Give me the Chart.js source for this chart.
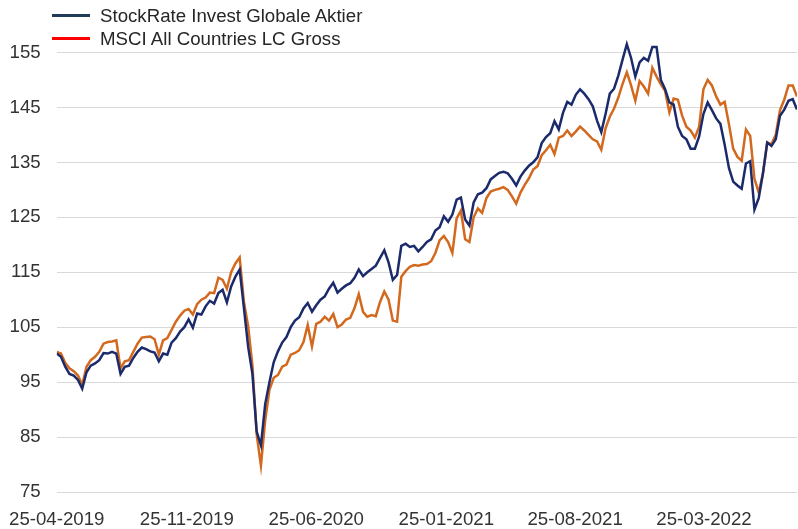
<!DOCTYPE html>
<html>
<head>
<meta charset="utf-8">
<style>
    html, body { margin: 0; padding: 0; background: #fff; }
    #wrap { position: relative; width: 798px; height: 529px; }
    #legend { position: absolute; left: 52px; top: 4px; font: 18.67px "Liberation Sans", Arial, sans-serif; color: #262626; }
    #legend .item { display: flex; align-items: center; height: 23px; white-space: nowrap; }
    #legend .swatch { width: 38px; height: 3px; margin-right: 10px; }
</style>
<script src="https://cdn.jsdelivr.net/npm/chart.js@4.4.1/dist/chart.umd.min.js"></script>
</head>
<body>
<div id="wrap">
    <canvas id="perf-chart" width="798" height="529"></canvas>
    <div id="legend"></div>
</div>
<script>
// weekly points, day 0 = 25-04-2019
const stepDays = 7;

const tickDays = [0, 214, 427, 641, 853, 1065];
const tickLabels = ["25-04-2019", "25-11-2019", "25-06-2020", "25-01-2021", "25-08-2021", "25-03-2022"];
const yTicks = [75, 85, 95, 105, 115, 125, 135, 145, 155];

const seriesNames = ["StockRate Invest Globale Aktier", "MSCI All Countries LC Gross"];

const stockRate = [
    100.2, 99.6, 97.8, 96.5, 96.2, 95.4, 93.8, 96.8, 98.0, 98.4,
    99.0, 100.3, 100.2, 100.5, 100.2, 96.5, 97.8, 98.0, 99.4, 100.5,
    101.3, 101.0, 100.6, 100.4, 98.8, 100.2, 100.0, 102.2, 103.0, 104.2,
    105.0, 106.4, 104.9, 107.5, 107.3, 108.8, 109.8, 109.3, 111.2, 111.8,
    109.5, 112.4, 114.2, 115.5, 108.5, 101.4, 96.5, 86.0, 83.5, 91.0,
    95.0, 98.6, 100.6, 102.2, 103.2, 105.0, 106.2, 106.8, 108.4, 109.4,
    107.8, 109.0, 110.0, 110.6, 112.0, 113.1, 111.3, 112.0, 112.6, 113.0,
    114.0, 115.5, 114.3, 115.0, 115.6, 116.2, 117.6, 119.0, 116.8, 113.6,
    114.5, 119.8, 120.2, 119.6, 119.8, 118.8, 119.6, 120.5, 121.0, 122.6,
    123.2, 125.2, 124.2, 125.5, 128.2, 128.6, 124.6, 123.5, 127.7, 129.2,
    129.5, 130.3, 131.9, 132.5, 133.1, 133.3, 133.0, 132.0, 130.8, 132.4,
    133.5, 134.4, 135.0, 135.9, 138.5, 139.6, 140.3, 142.5, 141.0, 144.0,
    146.0, 145.5, 147.3, 148.3, 147.5, 146.5, 145.2, 142.6, 140.5, 143.8,
    147.5, 148.4, 150.8, 153.7, 156.5, 154.0, 150.6, 153.2, 154.0, 153.5,
    156.0, 156.0, 150.0, 148.3, 145.9, 145.5, 141.5, 139.8, 139.2, 137.5,
    137.5, 139.7, 143.8, 145.9, 144.5, 143.0, 142.0, 138.2, 134.0, 131.5,
    130.8, 130.2, 134.8, 135.2, 126.4, 128.5, 133.0, 138.6, 138.0, 139.2,
    143.5, 144.6, 146.2, 146.5, 144.6
];

const msciAcwi = [
    100.5, 100.2, 98.5, 97.5, 97.0, 96.2, 94.5, 97.8, 99.0, 99.6,
    100.5, 102.0, 102.3, 102.4, 102.6, 97.5, 98.8, 99.0, 100.5, 102.0,
    103.1, 103.2, 103.3, 102.8, 100.0, 102.6, 103.0, 104.5, 106.0, 107.1,
    108.0, 108.3, 107.3, 109.2, 110.0, 110.4, 111.3, 111.2, 114.0, 113.6,
    112.0, 115.0, 116.6, 117.7, 109.6, 105.2, 98.0, 85.5, 79.8, 88.0,
    93.6, 95.8, 96.3, 97.8, 98.2, 100.0, 100.3, 100.8, 102.3, 105.4,
    101.5, 105.6, 106.0, 106.9, 106.2, 107.4, 105.0, 105.5, 106.4, 106.7,
    108.5, 111.0, 107.8, 106.9, 107.2, 107.0, 109.6, 111.5, 110.0, 106.2,
    106.0, 114.2, 115.2, 116.0, 116.3, 116.2, 116.4, 116.5, 117.0, 118.5,
    120.8, 121.6, 120.5, 118.5, 124.8, 126.2, 121.0, 120.5, 125.0, 126.6,
    125.8, 128.5, 129.7, 130.0, 130.2, 130.5, 130.0, 128.8, 127.5, 129.5,
    130.9, 132.1, 133.7, 134.3, 136.3, 137.2, 138.2, 136.5, 139.5, 139.8,
    140.8, 139.8, 140.6, 141.5, 140.8, 140.0, 139.2, 138.8, 137.3, 141.2,
    143.3, 144.8, 146.8, 149.3, 151.4, 149.0, 146.2, 149.8, 148.8, 147.5,
    152.2, 150.6, 149.2, 148.0, 144.1, 146.6, 146.4, 143.5, 141.5, 140.8,
    139.5, 141.5, 148.3, 150.0, 149.0, 147.0, 145.5, 146.0, 142.0, 137.5,
    136.0, 135.3, 141.0, 139.8, 132.0, 129.5, 133.0, 138.6, 138.3, 140.0,
    144.5, 146.4, 149.0, 149.0, 147.0
];

const lineColors = ["#1b2a6b", "#d2691e"];
const legendColors = ["#1f3b57", "#ff0000"];

function toPoints(values){
    return values.map((v, i) => ({ x: i * stepDays, y: v }));
}

// legend drawn as html so it can sit as two rows over the plot
const htmlLegend = {
    id: "htmlLegend",
    afterUpdate(chart){
        const box = document.getElementById("legend");
        box.innerHTML = "";
        chart.data.datasets.forEach((ds, i) => {
            const row = document.createElement("div");
            row.className = "item";
            row.innerHTML = `<span class="swatch" style="background:${legendColors[i]}"></span><span>${ds.label}</span>`;
            box.appendChild(row);
        });
    }
};

const tickFont = { family: "'Liberation Sans', Arial, sans-serif", size: 18.67 };

const ctx = document.getElementById("perf-chart").getContext("2d");

new Chart(ctx, {
    type: "line",
    data: {
        datasets: [{
            label: seriesNames[0],
            data: toPoints(stockRate),
            borderColor: lineColors[0],
            borderWidth: 2.5,
            pointRadius: 0,
            tension: 0,
            fill: false
        }, {
            label: seriesNames[1],
            data: toPoints(msciAcwi),
            borderColor: lineColors[1],
            borderWidth: 2.5,
            pointRadius: 0,
            tension: 0,
            fill: false
        }]
    },
    options: {
        responsive: false,
        animation: false,
        devicePixelRatio: 1,
        layout: { padding: { top: 36, right: 1, left: 0, bottom: 0 } },
        plugins: {
            legend: { display: false },
            tooltip: { enabled: false }
        },
        scales: {
            x: {
                type: "linear",
                min: 0,
                max: (stockRate.length - 1) * stepDays,
                grid: { display: false },
                border: { display: false },
                afterBuildTicks: (scale) => {
                    scale.ticks = tickDays.map(v => ({ value: v }));
                },
                afterFit: (scale) => { scale.height = 37; },
                ticks: {
                    autoSkip: false,
                    maxRotation: 0,
                    padding: 9,
                    color: "#333",
                    font: tickFont,
                    callback: (value) => tickLabels[tickDays.indexOf(value)]
                }
            },
            y: {
                min: 75,
                max: 158,
                grid: { color: "#d9d9d9", lineWidth: 1, drawTicks: false },
                border: { display: false },
                afterBuildTicks: (scale) => {
                    scale.ticks = yTicks.map(v => ({ value: v }));
                },
                afterFit: (scale) => { scale.width = 55; },
                ticks: {
                    padding: 16,
                    color: "#333",
                    font: tickFont
                }
            }
        }
    },
    plugins: [htmlLegend]
});
</script>
</body>
</html>
